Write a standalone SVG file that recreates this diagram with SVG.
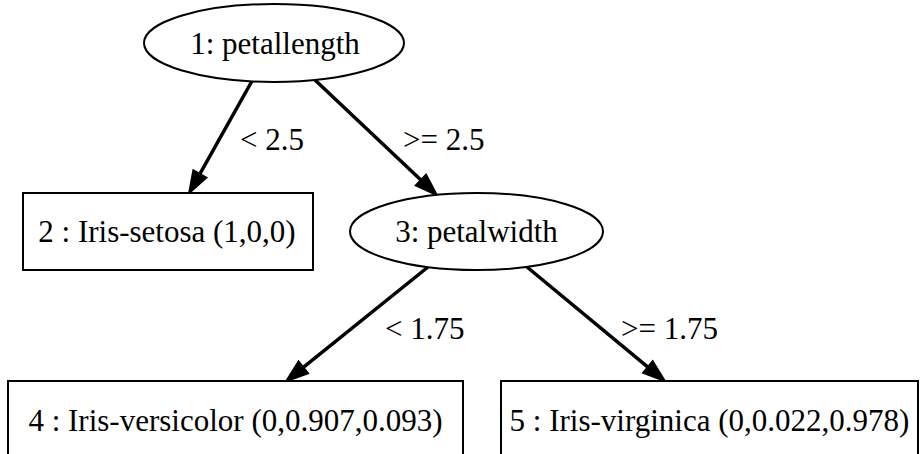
<svg xmlns="http://www.w3.org/2000/svg" width="922" height="454" viewBox="0 0 922 454">
<style>
.shape{fill:#fff;stroke:#000;stroke-width:2}
.lbl{font-family:"Liberation Serif","Times New Roman",serif;font-size:31px;fill:#000}
.edge{stroke:#000;stroke-width:3.5;fill:none}
</style>
<defs>
<marker id="arr" markerUnits="userSpaceOnUse" markerWidth="30" markerHeight="24" refX="0" refY="7.5" orient="auto" overflow="visible">
<path d="M0,0 L22,7.5 L0,15 z" fill="#000" stroke="#000" stroke-width="2" stroke-linejoin="miter"/>
</marker>
</defs>
<rect width="922" height="454" fill="#fff"/>
<g id="connectors">
<line class="edge" x1="252" y1="81" x2="199.9" y2="173.9" marker-end="url(#arr)"/>
<line class="edge" x1="315" y1="80" x2="420.9" y2="180.05" marker-end="url(#arr)"/>
<line class="edge" x1="428" y1="267" x2="303.3" y2="367.4" marker-end="url(#arr)"/>
<line class="edge" x1="527" y1="267" x2="647.9" y2="367.1" marker-end="url(#arr)"/>
<text class="lbl" x="240" y="150">&lt; 2.5</text>
<text class="lbl" x="403" y="150">&gt;= 2.5</text>
<text class="lbl" x="385" y="339">&lt; 1.75</text>
<text class="lbl" x="621" y="339">&gt;= 1.75</text>
</g>
<g id="node1">
<ellipse class="shape" cx="274" cy="43" rx="130" ry="39"/>
<text class="lbl" x="275" y="54" text-anchor="middle">1: petallength</text>
</g>
<g id="node2">
<rect class="shape" x="23" y="193" width="290" height="77"/>
<text class="lbl" x="167" y="242" text-anchor="middle">2 : Iris-setosa (1,0,0)</text>
</g>
<g id="node3">
<ellipse class="shape" cx="476.5" cy="231.5" rx="126.5" ry="38.5"/>
<text class="lbl" x="476.5" y="242" text-anchor="middle">3: petalwidth</text>
</g>
<g id="node4">
<rect class="shape" x="8" y="381" width="455" height="77"/>
<text class="lbl" x="235.5" y="431" text-anchor="middle">4 : Iris-versicolor (0,0.907,0.093)</text>
</g>
<g id="node5">
<rect class="shape" x="501" y="381" width="417" height="77"/>
<text class="lbl" x="709.5" y="431" text-anchor="middle">5 : Iris-virginica (0,0.022,0.978)</text>
</g>
</svg>
